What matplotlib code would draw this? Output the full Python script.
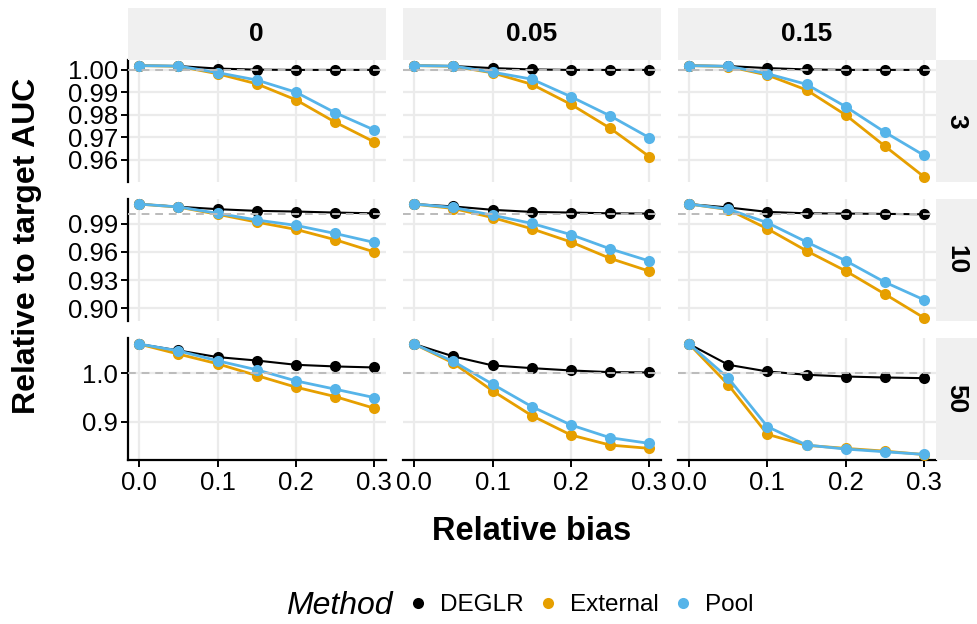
import matplotlib
matplotlib.use("Agg")
import matplotlib.pyplot as plt
from matplotlib.lines import Line2D

plt.rcParams['font.family'] = ['Liberation Sans', 'DejaVu Sans']

# ---- data ----
bias = [0.0, 0.05, 0.1, 0.15, 0.2, 0.25, 0.3]
col_labels = ["0", "0.05", "0.15"]
row_labels = ["3", "10", "50"]
methods = ["DEGLR", "External", "Pool"]
colors = {"DEGLR": "#000000", "External": "#E69F00", "Pool": "#56B4E9"}

# row n=3
deglr_3_0 = [1.0019, 1.0017, 1.0006, 1.0001, 1.0000, 1.0000, 1.0000]
ext_3_0 = [1.0019, 1.0016, 0.9983, 0.9938, 0.9867, 0.9768, 0.9680]
pool_3_0 = [1.0019, 1.0017, 0.9988, 0.9955, 0.9901, 0.9810, 0.9733]
deglr_3_05 = [1.0019, 1.0017, 1.0008, 1.0002, 1.0000, 1.0000, 1.0000]
ext_3_05 = [1.0019, 1.0016, 0.9987, 0.9936, 0.9847, 0.9741, 0.9615]
pool_3_05 = [1.0019, 1.0017, 0.9990, 0.9959, 0.9881, 0.9796, 0.9699]
deglr_3_15 = [1.0019, 1.0017, 1.0008, 1.0002, 1.0000, 1.0000, 1.0000]
ext_3_15 = [1.0019, 1.0015, 0.9977, 0.9911, 0.9800, 0.9662, 0.9526]
pool_3_15 = [1.0019, 1.0016, 0.9983, 0.9936, 0.9837, 0.9724, 0.9621]

# row n=10
deglr_10_0 = [1.0108, 1.0080, 1.0054, 1.0036, 1.0029, 1.0018, 1.0010]
ext_10_0 = [1.0108, 1.0076, 1.0000, 0.9917, 0.9839, 0.9730, 0.9600]
pool_10_0 = [1.0108, 1.0078, 1.0010, 0.9939, 0.9882, 0.9796, 0.9701]
deglr_10_05 = [1.0108, 1.0083, 1.0047, 1.0025, 1.0018, 1.0010, 1.0007]
ext_10_05 = [1.0108, 1.0061, 0.9965, 0.9846, 0.9706, 0.9532, 0.9396]
pool_10_05 = [1.0108, 1.0072, 0.9990, 0.9903, 0.9784, 0.9633, 0.9504]
deglr_10_15 = [1.0108, 1.0072, 1.0025, 1.0010, 1.0007, 1.0004, 1.0000]
ext_10_15 = [1.0108, 1.0050, 0.9846, 0.9612, 0.9399, 0.9154, 0.8902]
pool_10_15 = [1.0108, 1.0054, 0.9910, 0.9706, 0.9507, 0.9280, 0.9093]

# row n=50
deglr_50_0 = [1.0600, 1.0468, 1.0331, 1.0260, 1.0172, 1.0138, 1.0117]
ext_50_0 = [1.0600, 1.0393, 1.0193, 0.9950, 0.9710, 0.9516, 0.9275]
pool_50_0 = [1.0600, 1.0460, 1.0255, 1.0069, 0.9840, 0.9669, 0.9495]
deglr_50_05 = [1.0600, 1.0345, 1.0159, 1.0103, 1.0055, 1.0020, 1.0014]
ext_50_05 = [1.0600, 1.0207, 0.9634, 0.9123, 0.8723, 0.8515, 0.8447]
pool_50_05 = [1.0600, 1.0240, 0.9772, 0.9309, 0.8930, 0.8667, 0.8550]
deglr_50_15 = [1.0600, 1.0172, 1.0034, 0.9966, 0.9930, 0.9910, 0.9896]
ext_50_15 = [1.0600, 0.9758, 0.8737, 0.8510, 0.8447, 0.8390, 0.8320]
pool_50_15 = [1.0600, 0.9896, 0.8895, 0.8516, 0.8433, 0.8377, 0.8323]

data = [
    [[deglr_3_0, ext_3_0, pool_3_0], [deglr_3_05, ext_3_05, pool_3_05], [deglr_3_15, ext_3_15, pool_3_15]],
    [[deglr_10_0, ext_10_0, pool_10_0], [deglr_10_05, ext_10_05, pool_10_05], [deglr_10_15, ext_10_15, pool_10_15]],
    [[deglr_50_0, ext_50_0, pool_50_0], [deglr_50_05, ext_50_05, pool_50_05], [deglr_50_15, ext_50_15, pool_50_15]],
]

row_yticks = [[0.96, 0.97, 0.98, 0.99, 1.00], [0.90, 0.93, 0.96, 0.99], [0.9, 1.0]]
row_yticklabels = [["0.96", "0.97", "0.98", "0.99", "1.00"], ["0.90", "0.93", "0.96", "0.99"], ["0.9", "1.0"]]
row_ylims = [(0.9502, 1.0044), (0.8867, 1.0162), (0.8207, 1.0725)]
xticks = [0.0, 0.1, 0.2, 0.3]
xticklabels = ["0.0", "0.1", "0.2", "0.3"]

# ---- layout ----
W, H = 977, 624
fig = plt.figure(figsize=(W / 100, H / 100), dpi=100)


def box(x0, y0, x1, y1):
    return [x0 / W, 1 - y1 / H, (x1 - x0) / W, (y1 - y0) / H]


col_x = [(127.5, 386), (402.5, 661), (677.5, 935.5)]
row_y = [(60, 182), (199, 321), (338, 460)]

GRID = "#EBEBEB"
STRIP = "#F0F0F0"
TICKFS = 18.5

for r in range(3):
    for c in range(3):
        x0, x1 = col_x[c]
        y0, y1 = row_y[r]
        ax = fig.add_axes(box(x0, y0, x1, y1))
        ax.set_facecolor("white")
        for m, vals in zip(methods, data[r][c]):
            lw = 1.5 if m == "DEGLR" else 2.0
            ax.plot(bias, vals, color=colors[m], lw=lw, marker="o", ms=8,
                    markeredgewidth=0, zorder=3, clip_on=False)
        ax.axhline(1.0, color="#BBBBBB", lw=1.4, ls=(0, (4, 3)), zorder=4)
        ax.set_xlim(-0.015, 0.315)
        ax.set_ylim(*row_ylims[r])
        ax.set_xticks(xticks)
        ax.set_yticks(row_yticks[r])
        ax.grid(True, color=GRID, lw=1.6, zorder=0)
        ax.set_axisbelow(True)
        for s in ["top", "right", "left", "bottom"]:
            ax.spines[s].set_visible(False)
        if c == 0:
            ax.spines["left"].set_visible(True)
            ax.spines["left"].set_linewidth(1.6)
            ax.set_yticklabels(row_yticklabels[r])
            ax.tick_params(axis="y", length=5, width=1.4, labelsize=TICKFS, pad=2, colors="black")
        else:
            ax.tick_params(axis="y", length=0, labelleft=False)
        if r == 2:
            ax.spines["bottom"].set_visible(True)
            ax.spines["bottom"].set_linewidth(1.6)
            ax.set_xticklabels(xticklabels)
            ax.tick_params(axis="x", length=5, width=1.4, labelsize=TICKFS, pad=3, colors="black")
        else:
            ax.tick_params(axis="x", length=0, labelbottom=False)

# top strips
for c in range(3):
    x0, x1 = col_x[c]
    sax = fig.add_axes(box(x0, 8, x1, 60))
    sax.set_facecolor(STRIP)
    sax.set_xticks([]); sax.set_yticks([])
    for s in sax.spines.values():
        s.set_visible(False)
    sax.text(0.5, 0.5, col_labels[c], ha="center", va="center", fontsize=19,
             fontweight="bold", transform=sax.transAxes)

# right strips
for r in range(3):
    y0, y1 = row_y[r]
    sax = fig.add_axes(box(935.5, y0, 977, y1))
    sax.set_facecolor(STRIP)
    sax.set_xticks([]); sax.set_yticks([])
    for s in sax.spines.values():
        s.set_visible(False)
    sax.text(0.5, 0.5, row_labels[r], ha="center", va="center", fontsize=19,
             fontweight="bold", rotation=-90, transform=sax.transAxes)

# axis titles
fig.text(532 / W, 1 - 532 / H, "Relative bias", ha="center", va="center",
         fontsize=23.5, fontweight="bold")
fig.text(27 / W, 1 - 246 / H, "Relative to target AUC", ha="center", va="center",
         fontsize=23, fontweight="bold", rotation=90)

# legend
fig.text(339 / W, 1 - 606 / H, "Method", ha="center", va="center", fontsize=23, style="italic")
handles = [Line2D([], [], color=colors[m], marker="o", ms=8, lw=0, markeredgewidth=0) for m in methods]
fig.legend(handles, methods, ncol=3, loc="center left",
           bbox_to_anchor=(405 / W, 1 - 605 / H), frameon=False, fontsize=17.5,
           handlelength=1.1, handletextpad=0.35, columnspacing=0.45, borderaxespad=0,
           borderpad=0)

fig.savefig("out.png", dpi=100)
